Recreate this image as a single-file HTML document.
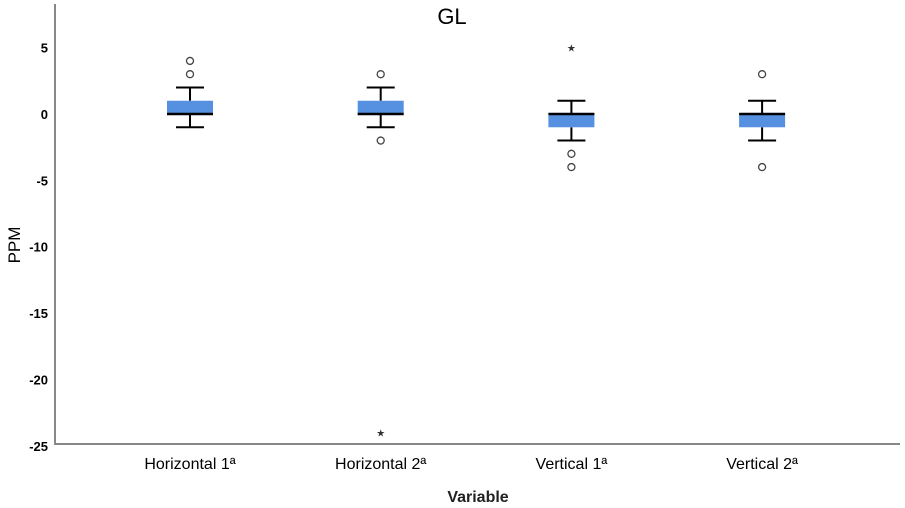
<!DOCTYPE html>
<html><head><meta charset="utf-8"><style>
body{margin:0;background:#fff;}
svg{display:block;font-family:"Liberation Sans",Arial,sans-serif;}
</style></head><body>
<svg id="chart" width="905" height="508" viewBox="0 0 905 508">
<text x="452" y="24" font-size="22" text-anchor="middle" fill="#000">GL</text>
<text x="20" y="245" font-size="17" text-anchor="middle" transform="rotate(-90 20 245)">PPM</text>
<text x="478" y="502" font-size="16" font-weight="bold" text-anchor="middle" fill="#222">Variable</text>
<line x1="55" y1="4" x2="55" y2="445" stroke="#888" stroke-width="2"/>
<line x1="54" y1="444" x2="900" y2="444" stroke="#888" stroke-width="2"/>
<g id="ticks"></g>
<g id="boxes"></g>
</svg>
<script>
const categories = ["Horizontal 1ª","Horizontal 2ª","Vertical 1ª","Vertical 2ª"];
const q1 = [0,0,-1,-1];
const medians = [0,0,0,0];
const q3 = [1,1,0,0];
const whiskLow = [-1,-1,-2,-2];
const whiskHigh = [2,2,1,1];
const outliers = [[3,4],[3,-2],[-3,-4],[3,-4]];
const extremes = [[],[-24],[5],[]];
const yTicks = [5,0,-5,-10,-15,-20,-25];

const NS="http://www.w3.org/2000/svg";
function y(v){return 114 - v*13.27;}
function x(i){return 190 + i*190.7;}
function mk(tag,attrs,parent){const e=document.createElementNS(NS,tag);for(const k in attrs)e.setAttribute(k,attrs[k]);parent.appendChild(e);return e;}
const tg=document.getElementById('ticks');
yTicks.forEach(t=>{
  const e=mk('text',{x:48,y:y(t)+5,'font-size':13,'font-weight':'bold','text-anchor':'end'},tg);
  
  
  e.textContent=t;
});
const bg=document.getElementById('boxes');
categories.forEach((c,i)=>{
  const cx=x(i);
  const g=mk('g',{},bg);
  
  
  mk('line',{x1:cx,x2:cx,y1:y(whiskHigh[i]),y2:y(q3[i]),stroke:'#000','stroke-width':2},g);
  mk('line',{x1:cx,x2:cx,y1:y(q1[i]),y2:y(whiskLow[i]),stroke:'#000','stroke-width':2},g);
  mk('line',{x1:cx-14,x2:cx+14,y1:y(whiskHigh[i]),y2:y(whiskHigh[i]),stroke:'#000','stroke-width':2},g);
  mk('line',{x1:cx-14,x2:cx+14,y1:y(whiskLow[i]),y2:y(whiskLow[i]),stroke:'#000','stroke-width':2},g);
  mk('rect',{x:cx-23,y:y(q3[i]),width:46,height:Math.max(1,y(q1[i])-y(q3[i])),fill:'#5591e0'},g);
  mk('line',{x1:cx-23,x2:cx+23,y1:y(medians[i]),y2:y(medians[i]),stroke:'#000','stroke-width':2.5},g);
  outliers[i].forEach(v=>{
    const o=mk('circle',{cx:cx,cy:y(v),r:3.5,fill:'none',stroke:'#444','stroke-width':1.3},g);
    
    
  });
  extremes[i].forEach(v=>{
    const s=mk('text',{x:cx,y:y(v)+4,'font-size':10,'text-anchor':'middle',fill:'#333'},g);
    
    
    s.textContent='★';
  });
  const l=mk('text',{x:cx,y:469,'font-size':16,'text-anchor':'middle'},bg);
  
  
  l.textContent=c;
});
</script>
</body></html>
